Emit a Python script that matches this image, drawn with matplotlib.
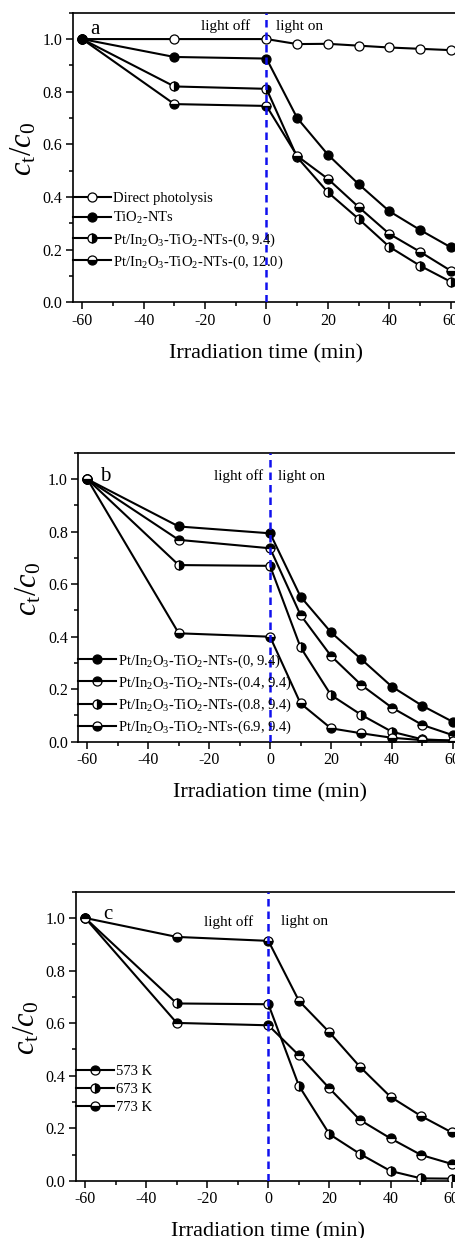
import matplotlib
matplotlib.use("Agg")
import matplotlib.pyplot as plt
from matplotlib.lines import Line2D
from matplotlib.ticker import MultipleLocator

plt.rcParams['font.family'] = ['Liberation Serif', 'DejaVu Serif']
plt.rcParams['mathtext.fontset'] = 'custom'
plt.rcParams['mathtext.rm'] = 'Liberation Serif'
plt.rcParams['mathtext.it'] = 'Liberation Serif:italic'
plt.rcParams['axes.unicode_minus'] = False

# ---------------- data ----------------
time = [-60, -30, 0, 10, 20, 30, 40, 50, 60]

# panel a
a_labels = ['Direct photolysis', 'TiO$_2$-NTs',
            'Pt/In$_2$O$_3$-TiO$_2$-NTs-(0, 9.4)',
            'Pt/In$_2$O$_3$-TiO$_2$-NTs-(0, 12.0)']
a_direct = [1.0, 1.0, 1.0, 0.981, 0.982, 0.975, 0.968, 0.963, 0.958]
a_tio2 = [1.0, 0.932, 0.926, 0.700, 0.561, 0.449, 0.346, 0.275, 0.209]
a_pt094 = [1.0, 0.820, 0.811, 0.551, 0.418, 0.317, 0.211, 0.139, 0.078]
a_pt0120 = [1.0, 0.753, 0.746, 0.556, 0.469, 0.362, 0.260, 0.192, 0.120]

# panel b
b_labels = ['Pt/In$_2$O$_3$-TiO$_2$-NTs-(0, 9.4)',
            'Pt/In$_2$O$_3$-TiO$_2$-NTs-(0.4, 9.4)',
            'Pt/In$_2$O$_3$-TiO$_2$-NTs-(0.8, 9.4)',
            'Pt/In$_2$O$_3$-TiO$_2$-NTs-(6.9, 9.4)']
b_s0 = [1.0, 0.820, 0.794, 0.553, 0.417, 0.314, 0.210, 0.137, 0.076]
b_s04 = [1.0, 0.769, 0.737, 0.483, 0.327, 0.216, 0.130, 0.064, 0.025]
b_s08 = [1.0, 0.673, 0.670, 0.360, 0.178, 0.102, 0.038, 0.009, 0.004]
b_s69 = [1.0, 0.413, 0.400, 0.146, 0.051, 0.032, 0.015, 0.006, 0.004]

# panel c
c_labels = ['573 K', '673 K', '773 K']
c_573 = [1.0, 0.928, 0.913, 0.685, 0.565, 0.434, 0.320, 0.247, 0.185]
c_673 = [1.0, 0.675, 0.672, 0.362, 0.178, 0.103, 0.038, 0.010, 0.009]
c_773 = [1.0, 0.601, 0.592, 0.478, 0.352, 0.232, 0.162, 0.099, 0.065]

# ---------------- styling helpers ----------------
MS = 6.5
LW = 1.5


def mk(fill):
    if fill == 'open':
        return dict(marker='o', markersize=MS, markerfacecolor='white',
                    markeredgecolor='black', markeredgewidth=0.9)
    if fill == 'full':
        return dict(marker='o', markersize=MS, markerfacecolor='black',
                    markeredgecolor='black', markeredgewidth=0.9)
    return dict(marker='o', markersize=MS, fillstyle=fill,
                markerfacecolor='black', markerfacecoloralt='white',
                markeredgecolor='black', markeredgewidth=0.9)


def style_axes(ax):
    ax.set_xlim(-63, 63)
    ax.set_ylim(0, 1.1)
    ax.xaxis.set_major_locator(MultipleLocator(20))
    ax.xaxis.set_minor_locator(MultipleLocator(10))
    ax.yaxis.set_major_locator(MultipleLocator(0.2))
    ax.yaxis.set_minor_locator(MultipleLocator(0.1))
    ax.yaxis.set_major_formatter(matplotlib.ticker.FormatStrFormatter('%.1f'))
    ax.tick_params(which='both', direction='out', top=False, right=False,
                   labelsize=11.5, width=1.1, pad=2.5)
    ax.tick_params(which='major', length=5)
    ax.tick_params(which='minor', length=3)
    for s in ax.spines.values():
        s.set_linewidth(1.2)
    ax.axvline(0, color='#1010ee', linestyle=(0, (3, 2)), linewidth=1.8, zorder=5)
    ax.set_xlabel('Irradiation time (min)', fontsize=16, labelpad=11)
    ax.set_ylabel(r'$c_{\rm t}/c_{\rm 0}$', fontsize=22, labelpad=3)
    ax.yaxis.label.set_y(0.528)


def add_legend(ax, handles, labels, top):
    leg = ax.legend(handles, labels, loc='upper left', bbox_to_anchor=(0.0, top),
                    frameon=False, fontsize=10.5, handlelength=2.6,
                    handletextpad=0.15, borderaxespad=0.0, borderpad=0.0,
                    labelspacing=0.33)
    return leg


fig = plt.figure(figsize=(4.55, 12.38), dpi=100)

# ---------------- panel a ----------------
axa = fig.add_axes([0.1604, 0.7558, 0.8505, 0.2339])
series_a = [(a_direct, 'open'), (a_pt094, 'right'), (a_pt0120, 'bottom'), (a_tio2, 'full')]
for vals, f in series_a:
    axa.plot(time, vals, color='black', linewidth=LW, zorder=3, **mk(f))
ha = [Line2D([], [], color='black', linewidth=LW, **mk(f))
      for f in ['open', 'full', 'right', 'bottom']]
style_axes(axa)
add_legend(axa, ha, a_labels, 0.38)
axa.text(-13.3, 1.05, 'light off', fontsize=11, ha='center', va='center')
axa.text(10.8, 1.047, 'light on', fontsize=11, ha='center', va='center')
axa.text(-55.9, 1.035, 'a', fontsize=15, ha='center', va='center')

# ---------------- panel b ----------------
axb = fig.add_axes([0.1721, 0.40089, 0.8429, 0.2332])
series_b = [(b_s0, 'full'), (b_s04, 'top'), (b_s08, 'right'), (b_s69, 'bottom')]
hb = []
for vals, f in series_b:
    axb.plot(time, vals, color='black', linewidth=LW, zorder=3, **mk(f))
    hb.append(Line2D([], [], color='black', linewidth=LW, **mk(f)))
style_axes(axb)
add_legend(axb, hb, b_labels, 0.31)
axb.text(-10.4, 1.013, 'light off', fontsize=11, ha='center', va='center')
axb.text(10.4, 1.01, 'light on', fontsize=11, ha='center', va='center')
axb.text(-54.2, 1.012, 'b', fontsize=15, ha='center', va='center')

# ---------------- panel c ----------------
axc = fig.add_axes([0.1670, 0.04604, 0.8457, 0.2337])
series_c = [(c_573, 'bottom', 'top'), (c_673, 'right', 'right'), (c_773, 'top', 'bottom')]
hc = []
for vals, f, lf in series_c:
    axc.plot(time, vals, color='black', linewidth=LW, zorder=3, **mk(f))
    hc.append(Line2D([], [], color='black', linewidth=LW, **mk(lf)))
style_axes(axc)
add_legend(axc, hc, c_labels, 0.402)
axc.text(-12.9, 0.985, 'light off', fontsize=11, ha='center', va='center')
axc.text(11.8, 0.985, 'light on', fontsize=11, ha='center', va='center')
axc.text(-52.7, 1.015, 'c', fontsize=15, ha='center', va='center')

fig.savefig('out.png', dpi=100)
